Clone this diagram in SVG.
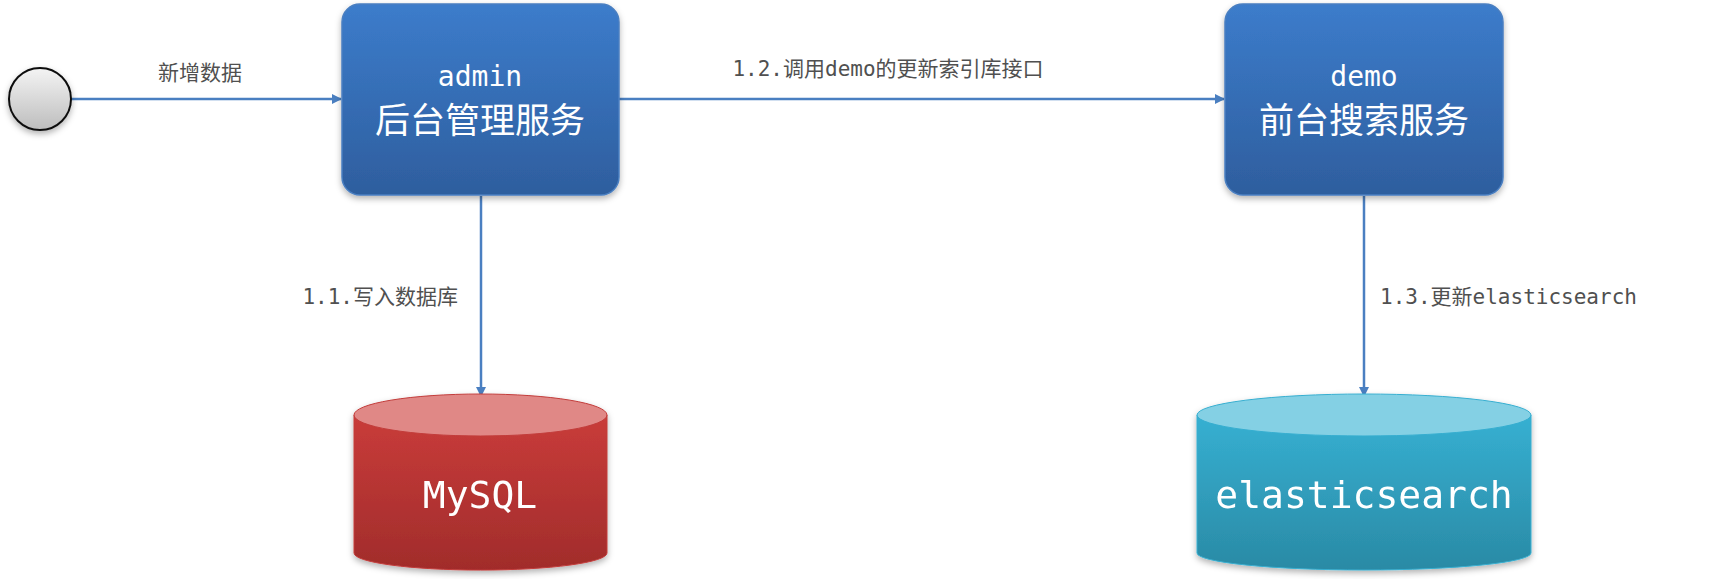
<svg xmlns="http://www.w3.org/2000/svg" width="1716" height="579" viewBox="0 0 1716 579">
<defs>
<linearGradient id="gb" x1="0" y1="0" x2="0" y2="1"><stop offset="0" stop-color="#3c7ccb"/><stop offset="1" stop-color="#2e5e9e"/></linearGradient>
<linearGradient id="gc" x1="0" y1="0" x2="0" y2="1"><stop offset="0" stop-color="#f4f4f4"/><stop offset="1" stop-color="#bdbdbd"/></linearGradient>
<linearGradient id="gr" x1="0" y1="0" x2="0" y2="1"><stop offset="0" stop-color="#c93c3a"/><stop offset="1" stop-color="#a12c2b"/></linearGradient>
<linearGradient id="gt" x1="0" y1="0" x2="0" y2="1"><stop offset="0" stop-color="#36b0d2"/><stop offset="1" stop-color="#2a8aa5"/></linearGradient>
<marker id="ar" markerWidth="10" markerHeight="10" refX="9" refY="5" orient="auto" markerUnits="userSpaceOnUse"><path d="M0,0 L10,5 L0,10 z" fill="#4a7fc1"/></marker>
<filter id="sh" x="-10%" y="-10%" width="120%" height="130%"><feDropShadow dx="0" dy="3" stdDeviation="3" flood-opacity="0.3"/></filter>
</defs>
<style>
.ln{stroke:#4a7fc1;stroke-width:2.5;fill:none;marker-end:url(#ar)}
.lb{font-family:"DejaVu Sans Mono","Noto Sans CJK SC",monospace;font-size:21px;fill:#505050}
.bt{fill:#fff;text-anchor:middle}
.mono{font-family:"DejaVu Sans Mono","Noto Sans CJK SC",monospace}
.cjk{font-family:"Noto Sans CJK SC",sans-serif}
</style>
<g id="connectors">
<line class="ln" x1="71" y1="99" x2="341" y2="99"/>
<line class="ln" x1="619" y1="99" x2="1224" y2="99"/>
<line class="ln" x1="481" y1="196" x2="481" y2="396"/>
<line class="ln" x1="1364" y1="196" x2="1364" y2="396"/>
<text class="lb" x="200" y="80" text-anchor="middle" font-family="Noto Sans CJK SC,sans-serif">新增数据</text>
<text class="lb" x="888" y="76" text-anchor="middle">1.2.调用demo的更新索引库接口</text>
<text class="lb" x="458" y="304" text-anchor="end">1.1.写入数据库</text>
<text class="lb" x="1380" y="304">1.3.更新elasticsearch</text>
</g>
<g id="start"><circle cx="40" cy="99" r="31" fill="url(#gc)" stroke="#111" stroke-width="2" filter="url(#sh)"/></g>
<g id="admin">
<rect x="342" y="4" width="277" height="191" rx="18" fill="url(#gb)" stroke="#4a7fc1" stroke-width="1.5" filter="url(#sh)"/>
<text class="bt mono" x="480" y="86" font-size="28">admin</text>
<text class="bt cjk" x="480" y="133" font-size="35">后台管理服务</text>
</g>
<g id="demo">
<rect x="1225" y="4" width="278" height="191" rx="18" fill="url(#gb)" stroke="#4a7fc1" stroke-width="1.5" filter="url(#sh)"/>
<text class="bt mono" x="1364" y="86" font-size="28">demo</text>
<text class="bt cjk" x="1364" y="133" font-size="35">前台搜索服务</text>
</g>
<g id="mysql" filter="url(#sh)">
<path d="M354,415 V553 A126,17 0 0 0 607,553 V415 Z" fill="url(#gr)" stroke="#c23c3a"/>
<ellipse cx="480.5" cy="415" rx="126.5" ry="21" fill="#e08886" stroke="#c23c3a"/>
<text class="bt mono" x="480" y="508" font-size="38">MySQL</text>
</g>
<g id="es" filter="url(#sh)">
<path d="M1197,415 V553 A167,17 0 0 0 1531,553 V415 Z" fill="url(#gt)" stroke="#36aed0"/>
<ellipse cx="1364" cy="415" rx="167" ry="21" fill="#84d0e4" stroke="#36aed0"/>
<text class="bt mono" x="1364" y="508" font-size="38">elasticsearch</text>
</g>
</svg>
